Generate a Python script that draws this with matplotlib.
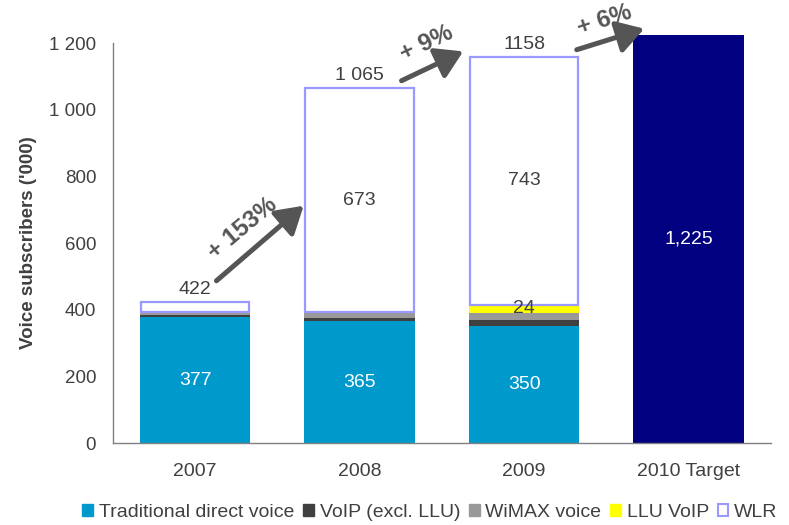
import matplotlib
matplotlib.use('Agg')
import matplotlib.pyplot as plt
from matplotlib.patches import Patch
from matplotlib.ticker import FuncFormatter

plt.rcParams['font.family'] = ['Liberation Sans', 'DejaVu Sans']

# subscribers in thousands
categories = ['2007', '2008', '2009', '2010 Target']
traditional = [377, 365, 350, 0]
voip = [6, 9, 19, 0]
wimax = [9, 18, 22, 0]
llu_voip = [0, 0, 24, 0]
wlr = [30, 673, 743, 0]
target = [0, 0, 0, 1225]
total_labels = ['422', '1 065', '1158']
growth_labels = ['+ 153%', '+ 9%', '+ 6%']

blue = '#0099CC'
dark = '#404040'
grey = '#999999'
yellow = '#FFFF00'
wlr_edge = '#9999FF'
navy = '#000080'
txt = '#404040'
arrow_c = '#555555'

fig = plt.figure(figsize=(7.89, 5.25), dpi=100)
ax = fig.add_axes([0.143, 0.156, 0.834, 0.762])

x = list(range(len(categories)))
w = 0.67

bottom = [0] * 4
ax.bar(x, traditional, w, color=blue, bottom=bottom)
bottom = [b + v for b, v in zip(bottom, traditional)]
ax.bar(x, voip, w, color=dark, bottom=bottom)
bottom = [b + v for b, v in zip(bottom, voip)]
ax.bar(x, wimax, w, color=grey, bottom=bottom)
bottom = [b + v for b, v in zip(bottom, wimax)]
ax.bar(x, llu_voip, w, color=yellow, bottom=bottom)
bottom = [b + v for b, v in zip(bottom, llu_voip)]
wlr_base = bottom[:]
ax.bar(x[:3], wlr[:3], w * 0.985, color='white', edgecolor=wlr_edge,
       linewidth=1.6, bottom=wlr_base[:3])
bottom = [b + v for b, v in zip(bottom, wlr)]
# target bar runs a little past the top of the axis
tb = ax.bar(x, target, w, color=navy)
for p in tb:
    p.set_clip_on(False)

# labels inside segments
fs_in = 14
for i in range(3):
    ax.text(x[i], traditional[i] / 2, str(traditional[i]), ha='center',
            va='center', color='white', fontsize=fs_in)
for i in (1, 2):
    ax.text(x[i], wlr_base[i] + wlr[i] / 2, str(wlr[i]), ha='center',
            va='center', color=txt, fontsize=fs_in)
llu_mid = traditional[2] + voip[2] + wimax[2] + llu_voip[2] / 2
ax.text(x[2], llu_mid, str(llu_voip[2]), ha='center', va='center',
        color=txt, fontsize=fs_in)
ax.text(x[3], target[3] / 2, '{:,}'.format(target[3]), ha='center',
        va='center', color='white', fontsize=fs_in)

# totals above the bars
for i in range(3):
    ax.annotate(total_labels[i], (x[i], bottom[i]), xytext=(0, 3),
                textcoords='offset points', ha='center', va='bottom',
                color=txt, fontsize=fs_in)

# growth arrows
arrows = [((0.13, 487), (0.66, 712)),
          ((1.255, 1087), (1.63, 1175)),
          ((2.32, 1180), (2.73, 1243))]
text_pos = [(0.29, 645, 40), (1.41, 1200, 25), (2.49, 1270, 18)]
for (start, end), lab, (tx, ty, rot) in zip(arrows, growth_labels, text_pos):
    ax.annotate('', xy=end, xytext=start, annotation_clip=False,
                arrowprops=dict(arrowstyle='-|>,head_length=0.9,head_width=0.55',
                                color=arrow_c, lw=3.6, mutation_scale=18,
                                shrinkA=0, shrinkB=0))
    ax.text(tx, ty, lab, rotation=rot, ha='center', va='center',
            fontsize=17.5, fontweight='bold', color=arrow_c,
            rotation_mode='anchor', clip_on=False)

ax.set_xlim(-0.5, 3.5)
ax.set_ylim(0, 1200)
ax.set_yticks(range(0, 1201, 200))
ax.yaxis.set_major_formatter(FuncFormatter(lambda v, p: '{:,}'.format(int(v)).replace(',', ' ')))
ax.set_xticks(x)
ax.set_xticklabels(categories)
ax.tick_params(length=0, colors=txt)
ax.tick_params(axis='x', pad=14, labelsize=14)
ax.tick_params(axis='y', pad=12, labelsize=13.5)
for s in ('top', 'right'):
    ax.spines[s].set_visible(False)
for s in ('left', 'bottom'):
    ax.spines[s].set_color('#808080')
    ax.spines[s].set_linewidth(1)
ax.set_ylabel("Voice subscribers ('000)", fontsize=13.5, fontweight='bold',
              color=txt, labelpad=9)

handles = [Patch(facecolor=blue, edgecolor=blue),
           Patch(facecolor=dark, edgecolor=dark),
           Patch(facecolor=grey, edgecolor=grey),
           Patch(facecolor=yellow, edgecolor=yellow),
           Patch(facecolor='white', edgecolor=wlr_edge, linewidth=1.5)]
names = ['Traditional direct voice', 'VoIP (excl. LLU)', 'WiMAX voice',
         'LLU VoIP', 'WLR']
leg = fig.legend(handles, names, loc='center', bbox_to_anchor=(0.545, 0.024),
                 ncol=5, frameon=False, fontsize=14, handlelength=0.55,
                 handleheight=0.55, handletextpad=0.3, columnspacing=0.45,
                 labelcolor=txt)

fig.savefig('out.png', dpi=100)
